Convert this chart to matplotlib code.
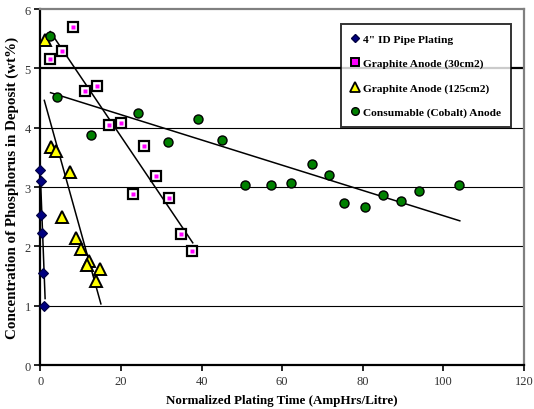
import numpy as np
import matplotlib.pyplot as plt
from matplotlib.lines import Line2D

plt.rcParams["font.family"] = ["Liberation Serif", "DejaVu Serif"]

# ── Data (AmpHrs/Litre, wt% P) ────────────────────────────────────────────────
pipe_x = [0.0, 0.05, 0.1, 0.45, 0.7, 0.95]
pipe_y = [3.28, 3.10, 2.53, 2.23, 1.55, 0.99]

g30_x = [8.15, 2.35, 5.3, 11.05, 13.95, 17.0, 20.0, 25.7, 28.6, 23.0, 32.0, 34.8, 37.6]
g30_y = [5.70, 5.16, 5.30, 4.62, 4.70, 4.04, 4.08, 3.69, 3.19, 2.88, 2.81, 2.21, 1.92]

g125_x = [1.1, 2.5, 3.85, 7.4, 5.4, 8.8, 10.1, 12.1, 11.6, 14.9, 13.7]
g125_y = [5.47, 3.68, 3.61, 3.25, 2.50, 2.14, 1.96, 1.75, 1.69, 1.62, 1.41]

co_x = [2.35, 4.0, 12.5, 24.2, 31.7, 39.2, 45.0, 50.8, 57.2, 62.2, 67.5,
        71.7, 75.4, 80.5, 85.0, 89.5, 94.0, 104.0]
co_y = [5.55, 4.52, 3.88, 4.24, 3.76, 4.15, 3.80, 3.04, 3.04, 3.07, 3.38,
        3.20, 2.73, 2.67, 2.87, 2.77, 2.94, 3.04]

# linear trendlines: (x_start, x_end), (y_start, y_end)
pipe_trend_x, pipe_trend_y = [0.0, 1.15], [3.15, 1.12]
g30_trend_x, g30_trend_y = [2.4, 37.8], [5.62, 2.06]
g125_trend_x, g125_trend_y = [0.95, 15.0], [4.46, 1.03]
co_trend_x, co_trend_y = [2.5, 104.1], [4.59, 2.43]

labels = ['4" ID Pipe Plating', "Graphite Anode (30cm2)",
          "Graphite Anode (125cm2)", "Consumable (Cobalt) Anode"]

# ── Figure ────────────────────────────────────────────────────────────────────
fig = plt.figure(figsize=(5.34, 4.10), dpi=100)
ax = fig.add_axes([0.0758, 0.1073, 0.9052, 0.8683])

# gridlines (y = 5 drawn heavier)
for yv in [1, 2, 3, 4]:
    ax.axhline(yv, color="black", lw=0.8, zorder=1)
ax.axhline(5, color="black", lw=1.6, zorder=1)

# trendlines
for tx, ty in [(pipe_trend_x, pipe_trend_y), (g30_trend_x, g30_trend_y),
               (g125_trend_x, g125_trend_y), (co_trend_x, co_trend_y)]:
    ax.plot(tx, ty, color="black", lw=1.1, zorder=2)

# markers
ax.plot(pipe_x, pipe_y, ls="none", marker="D", ms=5, mfc="#000080",
        mec="#000040", mew=0.8, zorder=4, clip_on=False)
ax.plot(g125_x, g125_y, ls="none", marker="^", ms=8, mfc="#ffff00",
        mec="black", mew=1.4, zorder=4)
ax.plot(co_x, co_y, ls="none", marker="o", ms=6.5, mfc="#008000",
        mec="black", mew=1.0, zorder=4)
ax.plot(g30_x, g30_y, ls="none", marker="s", ms=7, mfc="white",
        mec="black", mew=1.6, zorder=5)
ax.plot(g30_x, g30_y, ls="none", marker="s", ms=3.3, mfc="#ff00ff",
        mec="none", zorder=6)

# ── Axes ──────────────────────────────────────────────────────────────────────
ax.set_xlim(0, 120)
ax.set_ylim(0, 6)
ax.set_xticks(range(0, 121, 20))
ax.set_yticks(range(0, 7))
ax.tick_params(direction="out", length=4, width=1.2, labelsize=9,
               labelcolor="#333333", color="black")
ax.tick_params(axis="y", pad=3)

for side in ["left", "bottom"]:
    ax.spines[side].set_color("black")
    ax.spines[side].set_linewidth(1.6)
for side in ["top", "right"]:
    ax.spines[side].set_color("#808080")
    ax.spines[side].set_linewidth(1.6)

ax.set_xlabel("Normalized Plating Time (AmpHrs/Litre)", fontsize=9.4,
              fontweight="bold", labelpad=5)
ax.set_ylabel("Concentration of Phosphorus in Deposit (wt%)", fontsize=10.8,
              fontweight="bold", labelpad=4)

# ── Legend ────────────────────────────────────────────────────────────────────
handles = [
    Line2D([], [], ls="none", marker="D", ms=4.5, mfc="#000080", mec="#000040"),
    Line2D([], [], ls="none", marker="s", ms=5.5, mfc="#ff00ff", mec="black",
           mew=1.4),
    Line2D([], [], ls="none", marker="^", ms=6.5, mfc="#ffff00", mec="black",
           mew=1.3),
    Line2D([], [], ls="none", marker="o", ms=5.5, mfc="#008000", mec="black"),
]
leg = ax.legend(handles, labels, loc="upper left", bbox_to_anchor=(0.621, 0.957),
                prop={"weight": "bold", "size": 8.2}, frameon=True,
                fancybox=False, edgecolor="black", labelspacing=1.25,
                handlelength=0.8, handletextpad=0.3, borderpad=0.85,
                borderaxespad=0)
leg.get_frame().set_linewidth(1.4)
leg.set_zorder(10)

fig.savefig("out.png", dpi=100, facecolor="white")
